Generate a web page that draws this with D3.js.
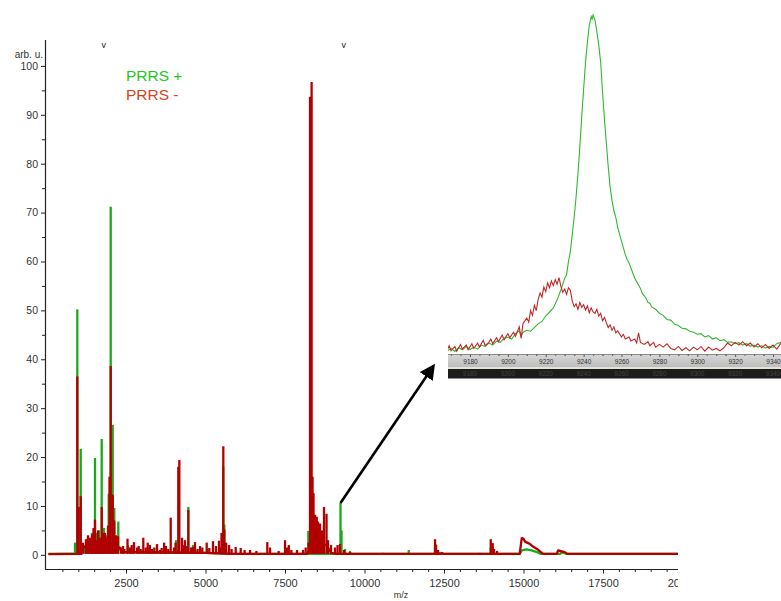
<!DOCTYPE html>
<html>
<head>
<meta charset="utf-8">
<script src="https://cdnjs.cloudflare.com/ajax/libs/d3/7.8.5/d3.min.js"></script>
<style>
body { margin: 0; background: #fff; }
svg { display: block; font-family: "Liberation Sans", Arial, sans-serif; }
</style>
</head>
<body>
<div id="chart"></div>
<script>
// ---- data (m/z, arb. u.) ----
var seriesNames = ["PRRS +", "PRRS -"];
var yTicks = [0, 10, 20, 30, 40, 50, 60, 70, 80, 90, 100];
var xTicks = [2500, 5000, 7500, 10000, 12500, 15000, 17500, 20000];
var insetTicks = [9180, 9200, 9220, 9240, 9260, 9280, 9300, 9320, 9340];
var markers = [1800, 9350]; // the little "v" marks above the plot

// PRRS + : single peaks (sticks)
var greenPeaks = [
	[896, 2.5], [969, 50.2], [1076, 21.7], [1211, 2], [1305, 3.5], [1431, 4.5], [1525, 19.8],
	[1588, 4.5], [1651, 5], [1736, 23.7], [1808, 5.5], [1871, 4], [1956, 12.5], [2019, 71.2],
	[2082, 26.6], [2132, 9.6], [2258, 6.8], [2563, 2], [3475, 1.5], [4073, 3], [4160, 15],
	[4460, 9.8], [4607, 2], [5060, 1.2], [5560, 18], [5592, 6.2], [7564, 1.2], [8234, 4.9],
	[8300, 60], [8420, 6], [8550, 4], [8727, 6], [9245, 10.6], [9278, 5], [9388, 1.2],
	[9545, 0.8], [11391, 1.0], [12218, 1.5], [12376, 0.6], [13970, 1.5], [16200, 0.6]
];
// PRRS + : baseline / broad features
var greenProfile = [
	[60, 0.2], [1000, 0.3], [1100, 1.2], [2300, 1.2], [2400, 0.5], [5000, 0.4], [5800, 0.2],
	[14880, 0.2], [14950, 0.9], [15100, 1.1], [15250, 0.9], [15450, 0.5], [15550, 0.2],
	[16150, 0.2], [16220, 0.6], [16350, 0.2], [20000, 0.2]
];

// PRRS - : single peaks (sticks)
var redPeaks = [
	[969, 36.5], [1013, 9.8], [1076, 12], [1148, 2.5], [1242, 3.2], [1305, 4], [1368, 3.5],
	[1431, 4.2], [1478, 5.5], [1525, 7.2], [1572, 3], [1620, 5], [1683, 3.5], [1736, 9.8],
	[1777, 4.5], [1840, 4.5], [1887, 3.5], [1934, 6], [1981, 16], [2019, 38.6], [2082, 12.3],
	[2132, 7], [2186, 4], [2249, 3.8], [2343, 1.5], [2406, 1.8], [2450, 1.2], [2547, 3.3],
	[2626, 1.5], [2680, 2], [2752, 2.6], [2846, 1.5], [2900, 1.8], [2960, 1.2], [3044, 3.5],
	[3120, 1.5], [3183, 2.5], [3250, 2], [3318, 1.2], [3390, 1.5], [3475, 2.2], [3570, 1],
	[3620, 1.4], [3700, 2.5], [3758, 1.8], [3830, 1.2], [3906, 7.6], [4010, 1.5], [4060, 2.5],
	[4145, 18], [4177, 19.4], [4262, 3.5], [4300, 2], [4356, 3], [4400, 1.8], [4460, 9.2],
	[4545, 1.5], [4600, 1.6], [4670, 2.6], [4750, 1.2], [4828, 1.8], [4900, 1.5], [5038, 2.5],
	[5120, 1.4], [5236, 2.8], [5330, 1.8], [5425, 2.9], [5480, 1.5], [5504, 4.5], [5560, 22.2],
	[5592, 5.2], [5650, 2.5], [5740, 2], [5820, 1.2], [5950, 1.6], [6107, 1.4], [6230, 1],
	[6400, 1], [6600, 0.8], [6944, 2.6], [7030, 1.5], [7300, 0.8], [7501, 3], [7564, 1.5],
	[7620, 2], [7700, 1], [7878, 1], [8067, 1], [8150, 1.5], [8240, 2.5], [8287, 93.7],
	[8337, 96.7], [8366, 16], [8397, 12.6], [8444, 8.2], [8498, 7.8], [8539, 6.8], [8602, 6.4],
	[8664, 5], [8727, 9.8], [8806, 8.4], [8853, 3], [8948, 2], [9073, 1.5], [9152, 2],
	[9230, 2.2], [9357, 1], [9545, 0.6], [10583, 0.4], [12218, 3.2], [12250, 2.1], [12313, 1],
	[12439, 0.6], [13634, 0.4], [13970, 3.2], [14033, 2.4], [14074, 1.2], [14168, 0.8]
];
// PRRS - : baseline / broad features
var redProfile = [
	[60, 0.15], [1100, 0.2], [1150, 1.5], [1400, 2], [1700, 2.4], [2000, 2.2], [2300, 1.5],
	[2400, 0.6], [4000, 0.5], [5000, 0.4], [5800, 0.2], [8200, 0.2], [8250, 0.8], [8400, 2.5],
	[8800, 2], [8950, 0.4], [9100, 0.2], [14880, 0.2], [14945, 3.4], [14995, 3.3], [15050, 2.7],
	[15112, 2.5], [15206, 2.2], [15300, 1.7], [15426, 1.2], [15520, 0.7], [15620, 0.2],
	[16050, 0.2], [16087, 0.9], [16150, 0.8], [16307, 0.5], [16380, 0.2], [20000, 0.2]
];

// zoomed region around 9245 m/z (relative intensity, peak = 100)
var insetGreen = [
	[9168, 0.5], [9170, 1.2], [9172, 0.3], [9174, 1.5], [9176, 0.8], [9178, 1.8], [9180, 0.9],
	[9182, 1.6], [9184, 1.0], [9186, 2.2], [9188, 1.8], [9190, 2.8], [9192, 2.2], [9194, 3.4],
	[9196, 3.0], [9198, 4.2], [9200, 4.5], [9202, 4.0], [9204, 5.6], [9206, 6.4], [9207, 4.8],
	[9208, 6.0], [9210, 6.6], [9212, 6.3], [9214, 7.4], [9216, 8.5], [9218, 9.2], [9220, 10.8],
	[9222, 12.0], [9224, 13.2], [9226, 15.6], [9228, 18.5], [9230, 22.0], [9231, 23], [9232, 27],
	[9233, 30], [9234, 35], [9235, 40], [9236, 46], [9237, 53], [9238, 61], [9239, 70],
	[9240, 78], [9241, 86], [9242, 92], [9243, 97], [9244, 99.5], [9244.5, 98.8], [9245, 100],
	[9246, 98.5], [9247, 95], [9248, 91], [9249, 86], [9250, 77], [9251, 69], [9252, 62],
	[9253, 55], [9254, 49], [9255, 45], [9256, 42], [9257, 40], [9258, 37], [9259, 35],
	[9260, 33], [9261, 31], [9262, 29], [9263, 27.5], [9264, 26.5], [9265, 25], [9266, 23.5],
	[9267, 22], [9268, 21], [9269, 20], [9270, 19], [9271, 17.5], [9272, 16.8], [9273, 16],
	[9274, 14.8], [9275, 14.6], [9276, 13.5], [9278, 12.8], [9280, 11.6], [9282, 11.0],
	[9284, 9.8], [9286, 9.6], [9288, 8.4], [9290, 8.0], [9292, 7.2], [9294, 7.0], [9296, 6.3],
	[9298, 6.0], [9300, 5.4], [9302, 5.6], [9304, 4.6], [9306, 5.0], [9308, 4.0], [9310, 4.4],
	[9312, 3.5], [9314, 3.8], [9316, 3.0], [9318, 3.2], [9320, 2.6], [9322, 2.9], [9324, 2.2],
	[9326, 2.6], [9328, 1.9], [9330, 2.2], [9332, 1.6], [9334, 2.0], [9336, 1.3], [9338, 1.8],
	[9340, 1.5], [9342, 2.6], [9344, 3.0], [9345, 3.2]
];
var insetRed = [
	[9168, 0.8], [9169, 2.0], [9170, 0.5], [9172, 1.8], [9173, 0.4], [9175, 2.4], [9176, 1.0],
	[9178, 2.2], [9179, 0.8], [9181, 2.6], [9182, 1.2], [9184, 2.8], [9185, 1.6], [9187, 3.6],
	[9188, 2.0], [9190, 3.0], [9191, 4.0], [9192, 2.6], [9194, 4.4], [9195, 3.2], [9197, 5.2],
	[9198, 3.8], [9200, 5.6], [9201, 4.4], [9203, 6.0], [9204, 4.8], [9206, 7.6], [9207, 4.2],
	[9208, 8.6], [9210, 10.2], [9211, 9.0], [9212, 12.4], [9213, 11.0], [9214, 14.0],
	[9215, 12.4], [9216, 15.8], [9217, 17.6], [9218, 16.4], [9219, 19.4], [9220, 18.0],
	[9221, 20.6], [9222, 19.2], [9223, 21.2], [9224, 19.8], [9225, 21.6], [9226, 20.2],
	[9227, 22.2], [9228, 19.6], [9229, 17.8], [9230, 18.8], [9231, 17.2], [9232, 19.2],
	[9233, 18.4], [9234, 15.2], [9235, 13.6], [9236, 14.4], [9237, 12.8], [9238, 14.8],
	[9239, 13.4], [9240, 14.2], [9241, 12.6], [9242, 13.8], [9243, 11.8], [9244, 13.2],
	[9245, 12.0], [9246, 11.6], [9247, 12.8], [9248, 10.8], [9249, 11.6], [9250, 9.4],
	[9251, 10.4], [9252, 8.8], [9253, 7.4], [9254, 8.2], [9255, 6.6], [9256, 7.6], [9257, 5.8],
	[9258, 6.4], [9260, 4.6], [9261, 5.4], [9262, 4.0], [9264, 4.6], [9265, 3.4], [9267, 4.0],
	[9268, 2.8], [9269, 5.8], [9270, 3.0], [9272, 2.4], [9274, 3.2], [9275, 2.0], [9277, 3.0],
	[9278, 1.6], [9280, 2.4], [9282, 1.6], [9284, 2.6], [9286, 1.2], [9288, 0.8], [9290, 1.8],
	[9292, 0.6], [9294, 1.4], [9296, 0.5], [9298, 1.6], [9300, 0.8], [9302, 1.8], [9304, 0.4],
	[9306, 1.6], [9308, 0.7], [9310, 1.2], [9312, 0.5], [9314, 1.4], [9316, 2.8], [9318, 2.0],
	[9320, 3.0], [9322, 2.2], [9324, 3.2], [9326, 2.0], [9328, 2.8], [9330, 1.6], [9332, 2.6],
	[9334, 1.4], [9336, 2.4], [9338, 1.2], [9340, 2.2], [9342, 1.0], [9344, 2.6], [9345, 3.0]
];

var green = "#1ca81c", red = "#b20000";

// ---- layout ----
var W = 781, H = 601;
var svg = d3.select("#chart").append("svg")
	.attr("width", W).attr("height", H);

var x = d3.scaleLinear().domain([0, 20000]).range([46.5, 682.5]);
var y = d3.scaleLinear().domain([-3.1, 105.3]).range([570, 40]);

var defs = svg.append("defs");
defs.append("clipPath").attr("id", "plotclip")
	.append("rect").attr("x", 45).attr("y", 0).attr("width", 633).attr("height", H);
defs.append("clipPath").attr("id", "insetclip")
	.append("rect").attr("x", 448).attr("y", 0).attr("width", 333).attr("height", 354);
defs.append("marker").attr("id", "arrowhead")
	.attr("viewBox", "0 0 10 10").attr("refX", 2).attr("refY", 5)
	.attr("markerWidth", 6).attr("markerHeight", 6).attr("orient", "auto")
	.append("path").attr("d", "M0,0 L10,5 L0,10 z").attr("fill", "#000");

// ---- axes ----
var axisColor = "#222", labelColor = "#333";

var gy = svg.append("g").attr("transform", "translate(45,0)")
	.call(d3.axisLeft(y).tickValues(yTicks).tickSize(4).tickPadding(3));
gy.select(".domain").remove();
gy.selectAll("line").attr("stroke", axisColor);
gy.selectAll("text").attr("fill", labelColor).style("font-size", "10.5px")
	.style("font-family", "Liberation Sans, Arial, sans-serif");
var gyMinor = svg.append("g").attr("transform", "translate(45,0)")
	.call(d3.axisLeft(y).tickValues(yTicks.slice(0, -1).map(function(t) { return t + 5; })).tickSize(3).tickFormat(""));
gyMinor.select(".domain").remove();
gyMinor.selectAll("line").attr("stroke", axisColor);

svg.append("line").attr("x1", 45.5).attr("x2", 45.5).attr("y1", 40).attr("y2", 570)
	.attr("stroke", axisColor).attr("stroke-width", 1.2);

var gxAll = svg.append("g").attr("clip-path", "url(#plotclip)");
var gx = gxAll.append("g").attr("transform", "translate(0,569.5)")
	.call(d3.axisBottom(x).tickValues(xTicks).tickSize(4).tickPadding(6).tickFormat(d3.format("d")));
gx.select(".domain").remove();
gx.selectAll("line").attr("stroke", axisColor);
gx.selectAll("text").attr("fill", labelColor).style("font-size", "11px")
	.style("font-family", "Liberation Sans, Arial, sans-serif");
var minorX = [];
xTicks.forEach(function(t) { [500, 1000, 1500, 2000].forEach(function(o) { minorX.push(t - o); }); });
var gxMinor = gxAll.append("g").attr("transform", "translate(0,569.5)")
	.call(d3.axisBottom(x).tickValues(minorX).tickSize(2.5).tickFormat(""));
gxMinor.select(".domain").remove();
gxMinor.selectAll("line").attr("stroke", axisColor);
svg.append("line").attr("x1", 45).attr("x2", 678).attr("y1", 569.5).attr("y2", 569.5)
	.attr("stroke", axisColor).attr("stroke-width", 1.2);

svg.append("text").attr("x", 43).attr("y", 58).attr("text-anchor", "end")
	.attr("fill", labelColor).style("font-size", "10px").text("arb. u.");
svg.append("text").attr("x", 401).attr("y", 598).attr("text-anchor", "middle")
	.attr("fill", labelColor).style("font-size", "9px").text("m/z");

svg.selectAll(".vmark").data(markers).enter().append("text")
	.attr("class", "vmark")
	.attr("x", function(d) { return x(d); }).attr("y", 48)
	.attr("text-anchor", "middle").attr("fill", "#222").style("font-size", "9px").text("v");

// ---- spectra ----
var line = d3.line().x(function(d) { return x(d[0]); }).y(function(d) { return y(d[1]); });
var plot = svg.append("g").attr("clip-path", "url(#plotclip)");

function drawSeries(profile, peaks, color) {
	plot.append("path").datum(profile).attr("d", line)
		.attr("fill", "none").attr("stroke", color).attr("stroke-width", 2.3)
		.attr("stroke-linejoin", "round");
	plot.append("g").selectAll("line").data(peaks).enter().append("line")
		.attr("x1", function(d) { return x(d[0]); }).attr("x2", function(d) { return x(d[0]); })
		.attr("y1", y(0.2)).attr("y2", function(d) { return y(d[1]); })
		.attr("stroke", color).attr("stroke-width", 2.3);
}
drawSeries(greenProfile, greenPeaks, green);
drawSeries(redProfile, redPeaks, red);

// ---- legend ----
svg.append("text").attr("x", 126).attr("y", 81).attr("fill", "#22c822")
	.style("font-size", "15.5px").text(seriesNames[0]);
svg.append("text").attr("x", 126).attr("y", 100).attr("fill", "#d4441c")
	.style("font-size", "15.5px").text(seriesNames[1]);

// ---- arrow to the inset ----
svg.append("line").attr("x1", x(9245)).attr("y1", y(10.6))
	.attr("x2", 428).attr("y2", 374)
	.attr("stroke", "#000").attr("stroke-width", 2.6)
	.attr("marker-end", "url(#arrowhead)");

// ---- inset (zoom on the 9245 peak) ----
var ix = d3.scaleLinear().domain([9180, 9340]).range([470, 773]);
var iy = d3.scaleLinear().domain([0, 100]).range([352.5, 15]);
var iline = d3.line().x(function(d) { return ix(d[0]); }).y(function(d) { return iy(d[1]); });

var inset = svg.append("g");
inset.append("rect").attr("x", 448).attr("y", 0).attr("width", 333).attr("height", 380).attr("fill", "#fff");
var ip = inset.append("g").attr("clip-path", "url(#insetclip)");
ip.append("path").datum(insetGreen).attr("d", iline)
	.attr("fill", "none").attr("stroke", "#30b830").attr("stroke-width", 1.1);
ip.append("path").datum(insetRed).attr("d", iline)
	.attr("fill", "none").attr("stroke", "#c02828").attr("stroke-width", 1.1);

// ruler bars
var barGrad = defs.append("linearGradient").attr("id", "bargrad").attr("x1", 0).attr("x2", 0).attr("y1", 0).attr("y2", 1);
barGrad.append("stop").attr("offset", "0%").attr("stop-color", "#d6d6d6");
barGrad.append("stop").attr("offset", "100%").attr("stop-color", "#bdbdbd");
inset.append("rect").attr("x", 448).attr("y", 354.5).attr("width", 333).attr("height", 13)
	.attr("fill", "url(#bargrad)");
inset.append("line").attr("x1", 448).attr("x2", 781).attr("y1", 354.5).attr("y2", 354.5)
	.attr("stroke", "#8a8a8a");
inset.append("rect").attr("x", 448).attr("y", 367.5).attr("width", 333).attr("height", 1.5)
	.attr("fill", "#e8e2d2");
inset.append("rect").attr("x", 448).attr("y", 369).attr("width", 333).attr("height", 9.5)
	.attr("fill", "#1c1c1c");

var iMinor = [];
insetTicks.forEach(function(t) { [-10, -5, 5, 10, 15].forEach(function(o) { iMinor.push(t + o); }); });
var giMinor = inset.append("g").attr("transform", "translate(0,354.5)")
	.call(d3.axisBottom(ix).tickValues(iMinor.filter(function(t) { return ix(t) > 448 && ix(t) < 781; }))
		.tickSize(1.5).tickFormat(""));
giMinor.select(".domain").remove();
giMinor.selectAll("line").attr("stroke", "#666");
var gi = inset.append("g").attr("transform", "translate(0,354.5)")
	.call(d3.axisBottom(ix).tickValues(insetTicks).tickSize(2.5).tickPadding(2.5).tickFormat(d3.format("d")));
gi.select(".domain").remove();
gi.selectAll("line").attr("stroke", "#555");
gi.selectAll("text").attr("fill", "#333").style("font-size", "6.5px")
	.style("font-family", "Liberation Sans, Arial, sans-serif");

inset.append("g").selectAll("text").data(insetTicks).enter().append("text")
	.attr("x", function(d) { return ix(d); }).attr("y", 376)
	.attr("text-anchor", "middle").attr("fill", "#444").style("font-size", "6.5px")
	.text(function(d) { return d; });
</script>
</body>
</html>
